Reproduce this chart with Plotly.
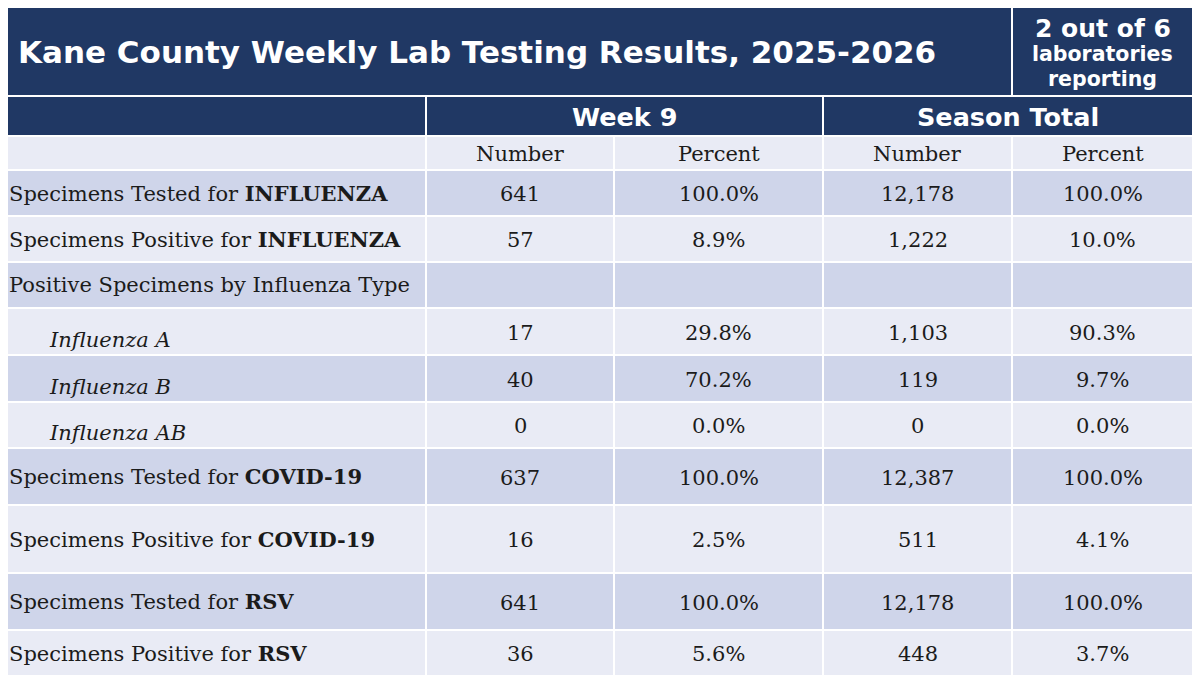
import plotly.graph_objects as go

# table content
title = "Kane County Weekly Lab Testing Results, 2025-2026"
lab_note = ["2 out of 6", "laboratories", "reporting"]
groups = ["Week 9", "Season Total"]
sub_headers = ["Number", "Percent", "Number", "Percent"]

row_labels = [
    "Specimens Tested for ", "Specimens Positive for ",
    "Positive Specimens by Influenza Type",
    "Influenza A", "Influenza B", "Influenza AB",
    "Specimens Tested for ", "Specimens Positive for ",
    "Specimens Tested for ", "Specimens Positive for ",
]
row_targets = ["INFLUENZA", "INFLUENZA", "", "", "", "", "COVID-19", "COVID-19", "RSV", "RSV"]
row_subtype = [False, False, False, True, True, True, False, False, False, False]

week_number = [641, 57, None, 17, 40, 0, 637, 16, 641, 36]
week_percent = [100.0, 8.9, None, 29.8, 70.2, 0.0, 100.0, 2.5, 100.0, 5.6]
season_number = [12178, 1222, None, 1103, 119, 0, 12387, 511, 12178, 448]
season_percent = [100.0, 10.0, None, 90.3, 9.7, 0.0, 100.0, 4.1, 100.0, 3.7]

# layout (pixels)
col_edges = [7, 426, 614, 823, 1012, 1193]
title_top, title_bot = 7, 96
group_bot = 136
sub_bot = 170
row_heights = [46, 46, 46, 47, 47, 46, 57, 68, 57, 46]

NAVY = "#203864"
DARK = "#CFD5EA"
LIGHT = "#E9EBF5"
INK = "#1b1b1b"
SANS = "DejaVu Sans"
SERIF = "DejaVu Serif"
BODY = 21

fig = go.Figure()
shapes = []
notes = []


def cell(x0, x1, y0, y1, color):
    shapes.append(dict(type="rect", xref="x", yref="y", x0=x0, x1=x1, y0=y0, y1=y1,
                       fillcolor=color, line=dict(color="white", width=2), layer="below"))


def text(x, y, s, size, family, color=INK, anchor="center", yshift=0):
    notes.append(dict(x=x, y=y, xref="x", yref="y", text=s, showarrow=False,
                      xanchor=anchor, yanchor="middle", yshift=yshift,
                      font=dict(size=size, family=family, color=color)))


# title row
cell(col_edges[0], col_edges[4], title_top, title_bot, NAVY)
cell(col_edges[4], col_edges[5], title_top, title_bot, NAVY)
text(16, (title_top + title_bot) / 2, "<b>" + title + "</b>", 31, SANS, "white", "left")
rx = (col_edges[4] + col_edges[5]) / 2
text(rx, 28, "<b>" + lab_note[0] + "</b>", 25, SANS, "white")
text(rx, 54, "<b>" + lab_note[1] + "</b>", 20.5, SANS, "white")
text(rx, 79, "<b>" + lab_note[2] + "</b>", 20.5, SANS, "white")

# group header row
cell(col_edges[0], col_edges[1], title_bot, group_bot, NAVY)
for g, name in enumerate(groups):
    x0, x1 = col_edges[1 + 2 * g], col_edges[3 + 2 * g]
    cell(x0, x1, title_bot, group_bot, NAVY)
    text((x0 + x1) / 2, (title_bot + group_bot) / 2 + 1, "<b>" + name + "</b>", 25.5, SANS, "white")

# sub header row
for c in range(5):
    cell(col_edges[c], col_edges[c + 1], group_bot, sub_bot, LIGHT)
for c, name in enumerate(sub_headers):
    text((col_edges[c + 1] + col_edges[c + 2]) / 2, (group_bot + sub_bot) / 2 + 1, name, BODY, SERIF)

# data rows
columns = [week_number, week_percent, season_number, season_percent]
y0 = sub_bot
for r, h in enumerate(row_heights):
    y1 = y0 + h
    shade = DARK if r % 2 == 0 else LIGHT
    for c in range(5):
        cell(col_edges[c], col_edges[c + 1], y0, y1, shade)
    ym = (y0 + y1) / 2
    if row_subtype[r]:
        text(47, ym, "<i>" + row_labels[r] + "</i>", BODY, SERIF, anchor="left", yshift=-8)
    else:
        lbl = row_labels[r] + ("<b>" + row_targets[r] + "</b>" if row_targets[r] else "")
        text(7, ym, lbl, BODY, SERIF, anchor="left")
    for c, vals in enumerate(columns):
        v = vals[r]
        if v is None:
            continue
        s = f"{v:.1f}%" if c % 2 == 1 else f"{v:,}"
        text((col_edges[c + 1] + col_edges[c + 2]) / 2, ym, s, BODY, SERIF, yshift=-1)
    y0 = y1

fig.update_layout(
    width=1200, height=682,
    margin=dict(l=0, r=0, t=0, b=0),
    paper_bgcolor="white", plot_bgcolor="white",
    xaxis=dict(range=[0, 1200], visible=False, fixedrange=True),
    yaxis=dict(range=[682, 0], visible=False, fixedrange=True),
    shapes=shapes, annotations=notes, showlegend=False,
)

# drop the browser's default body margin so the table sits at the page origin
fig.write_html("out.html", config={"displayModeBar": False},
               post_script="document.body.style.margin='0';")
